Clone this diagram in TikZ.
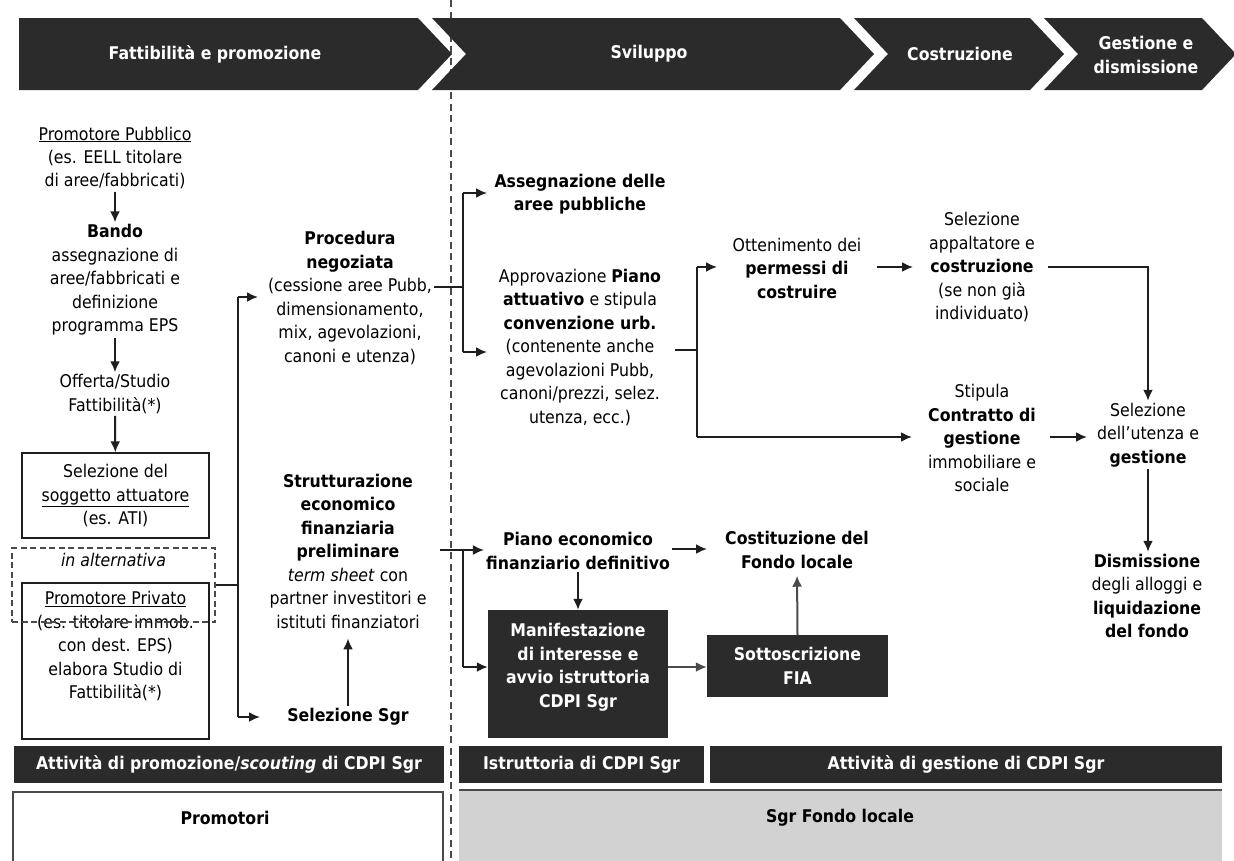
\documentclass[tikz,border=0pt]{standalone}
\usepackage{fontspec}
\setmainfont{DejaVu Sans}[FakeStretch=0.9]
\usetikzlibrary{arrows.meta,calc}
\definecolor{dark}{HTML}{2B2B2B}
\definecolor{linec}{HTML}{1E1E1E}
\definecolor{garrc}{HTML}{4A4A4A}
\definecolor{lgray}{HTML}{D2D2D2}
\newcommand\bodyf{\fontsize{17.5}{23.5}\selectfont}
\tikzset{
 txt/.style={align=center, font=\bodyf, inner sep=2pt, text=black},
 htxt/.style={align=center, font=\bfseries\bodyf, text=white, inner sep=2pt},
 line/.style={draw=linec, line width=2pt},
 arr/.style={line, -{Latex[length=11pt,width=10pt]}},
 garr/.style={draw=garrc, line width=2pt, -{Latex[length=11pt,width=10pt]}},
 box/.style={txt, draw=linec, line width=1.4pt, fill=white},
 dbox/.style={draw=garrc, line width=1.3pt, dash pattern=on 6pt off 3.5pt},
 darkbox/.style={fill=dark, text=white, font=\bfseries\bodyf, align=center, inner sep=0pt},
 bar/.style={fill=dark, text=white, font=\bfseries\bodyf, minimum height=37pt, inner sep=0pt},
}
\begin{document}
\begin{tikzpicture}[x=1pt,y=-1pt]
\useasboundingbox (0,0) rectangle (1234,860);
\fill[white] (0,0) rectangle (1234,860);
% divider
\draw[draw=garrc, line width=1.2pt, dash pattern=on 7pt off 4.5pt] (451,0) coordinate (dtop) -- (451,860) coordinate (dbot);
% header chevrons
\fill[dark] (19,18) -- (418,18) -- (452,54) -- (418,90) -- (19,90) -- cycle;
\fill[dark] (432,18) -- (840,18) -- (874,54) -- (840,90) -- (432,90) -- (466,54) -- cycle;
\fill[dark] (854,18) -- (1030,18) -- (1064,54) -- (1030,90) -- (854,90) -- (888,54) -- cycle;
\fill[dark] (1044,18) -- (1202,18) -- (1236,54) -- (1202,90) -- (1044,90) -- (1078,54) -- cycle;
\node[htxt] (h1) at (215,54) {Fattibilità e promozione};
\node[htxt] (h2) at (649,54) {Sviluppo};
\node[htxt] (h3) at (960,54) {Costruzione};
\node[htxt] (h4) at (1146,55) {Gestione e\\dismissione};

% left column
\node[txt] (pp) at (115,158) {\underline{Promotore Pubblico}\\(es. EELL titolare\\di aree/fabbricati)};
\node[txt] (bando) at (115,280) {\textbf{Bando}\\assegnazione di\\aree/fabbricati e\\definizione\\programma EPS};
\node[txt] (off) at (115,394) {Offerta/Studio\\Fattibilità(*)};
\node[box, minimum width=187pt, minimum height=85pt] (sel) at (115.5,495.5) {Selezione del\\\underline{soggetto attuatore}\\(es. ATI)};
\node[box, minimum width=187pt, minimum height=156pt] (priv) at (115.5,661) {};
\node[txt] (privt) at (115.5,646) {\underline{Promotore Privato}\\(es. titolare immob.\\con dest. EPS)\\elabora Studio di\\Fattibilità(*)};
\node[dbox, minimum width=203pt, minimum height=74pt] (alt) at (113.5,585) {};
\node[txt] (altt) at (113.5,560) {\textit{in alternativa}};

% middle column
\node[txt] (proc) at (350,298) {\textbf{Procedura}\\\textbf{negoziata}\\(cessione aree Pubb,\\dimensionamento,\\mix, agevolazioni,\\canoni e utenza)};
\node[txt] (strutt) at (348,551) {\textbf{Strutturazione}\\\textbf{economico}\\\textbf{finanziaria}\\\textbf{preliminare}\\\textit{term sheet} con\\partner investitori e\\istituti finanziatori};
\node[txt] (selsgr) at (348,717) {\textbf{Selezione Sgr}};

% sviluppo column
\node[txt] (assg) at (580,194) {\textbf{Assegnazione delle}\\\textbf{aree pubbliche}};
\node[txt] (appr) at (580,347) {Approvazione \textbf{Piano}\\\textbf{attuativo} e stipula\\\textbf{convenzione urb.}\\(contenente anche\\agevolazioni Pubb,\\canoni/prezzi, selez.\\utenza, ecc.)};
\node[txt] (piano) at (578,551) {\textbf{Piano economico}\\\textbf{finanziario definitivo}};
\node[darkbox, minimum width=180pt, minimum height=128pt] (manif) at (578,674) {};
\node[htxt] (manift) at (578,667) {Manifestazione\\di interesse e\\avvio istruttoria\\CDPI Sgr};
\node[darkbox, minimum width=181pt, minimum height=62pt] (sotto) at (797.5,666) {Sottoscrizione\\FIA};
\node[txt] (cost) at (797,550) {\textbf{Costituzione del}\\\textbf{Fondo locale}};
\node[txt] (ott) at (797,268) {Ottenimento dei\\\textbf{permessi di}\\\textbf{costruire}};

% costruzione / gestione
\node[txt] (selapp) at (982,267) {Selezione\\appaltatore e\\\textbf{costruzione}\\(se non già\\individuato)};
\node[txt] (stip) at (982,438) {Stipula\\\textbf{Contratto di}\\\textbf{gestione}\\immobiliare e\\sociale};
\node[txt] (selut) at (1148,435) {Selezione\\dell’utenza e\\\textbf{gestione}};
\node[txt] (dism) at (1147,596) {\textbf{Dismissione}\\degli alloggi e\\\textbf{liquidazione}\\\textbf{del fondo}};

% bottom bars
\node[bar, minimum width=430pt] (bar1) at (229,764.5) {Attività di promozione/\textit{scouting} di CDPI Sgr};
\node[bar, minimum width=245pt] (bar2) at (581.5,764.5) {Istruttoria di CDPI Sgr};
\node[bar, minimum width=512pt] (bar3) at (966,764.5) {Attività di gestione di CDPI Sgr};
\node[draw=garrc, line width=1.4pt, fill=white, minimum width=430pt, minimum height=84pt, inner sep=0pt] (promb) at (228,834) {};
\node[txt] (promt) at (225,818) {\textbf{Promotori}};
\node[fill=lgray, minimum width=763pt, minimum height=84pt, inner sep=0pt] (sgrb) at (840.5,832) {};
\draw[draw=garrc, line width=1.4pt] (sgrb.north west) -- (sgrb.north east);
\node[txt] (sgrt) at (840,818) {\textbf{Sgr Fondo locale}};

% connectors left
\draw[arr] (pp) -- (bando);
\draw[arr] (bando) -- (off);
\draw[arr] (off) -- (sel);
\coordinate (t1) at (238,297);
\coordinate (t2) at (238,585);
\coordinate (t3) at (238,717);
\coordinate (t1e) at (258,297);
\coordinate (t3e) at (260,717);
\draw[line] (t1) -- (t3);
\draw[line] (alt.east) -- (t2);
\draw[arr] (t1) -- (t1e);
\draw[arr] (t3) -- (t3e);
\draw[arr, shorten >=8pt] (selsgr.north) -- (selsgr.north |- strutt.south);

% bracket 1
\coordinate (b1) at (463,287);
\coordinate (b1t) at (463,193);
\coordinate (b1b) at (463,352);
\coordinate (a1) at (487,193);
\coordinate (a2) at (487,352);
\draw[line] (proc.east |- b1) -- (b1);
\draw[line] (b1t) -- (b1b);
\draw[arr] (b1t) -- (a1);
\draw[arr] (b1b) -- (a2);

% bracket 2
\coordinate (c2s) at (675,350);
\coordinate (b2) at (697,350);
\coordinate (b2t) at (697,267);
\coordinate (b2b) at (697,437);
\coordinate (ottin) at (717,267);
\coordinate (stipin) at (912,437);
\draw[line] (c2s) -- (b2);
\draw[line] (b2t) -- (b2b);
\draw[arr] (b2t) -- (ottin);
\draw[arr] (b2b) -- (stipin);

% right part
\coordinate (o1) at (877,267);
\coordinate (o2) at (913,267);
\draw[arr] (o1) -- (o2);
\coordinate (sa) at (1048,267);
\draw[arr] (sa) -| (selut.north);
\coordinate (s1) at (1050,437);
\coordinate (s2) at (1087,437);
\draw[arr] (s1) -- (s2);
\draw[arr] (selut.south) -- (selut.south |- dism.north);

% piano economico
\coordinate (st1) at (440,550);
\coordinate (b3) at (463,550);
\coordinate (b3b) at (463,667);
\draw[arr] (st1) -- (st1 -| piano.west);
\draw[line] (b3) -- (b3b);
\draw[arr] (b3b) -- (b3b -| manif.west);
\draw[arr] (piano) -- (manif);
\coordinate (pc) at (707,549);
\draw[arr] (piano.east |- pc) -- (pc);
\coordinate (ms) at (578,667);
\draw[garr] (manif.east |- ms) -- (sotto.west |- ms);
\draw[garr, shorten >=5pt] (sotto.north) -- (cost.south);
\end{tikzpicture}
\end{document}
